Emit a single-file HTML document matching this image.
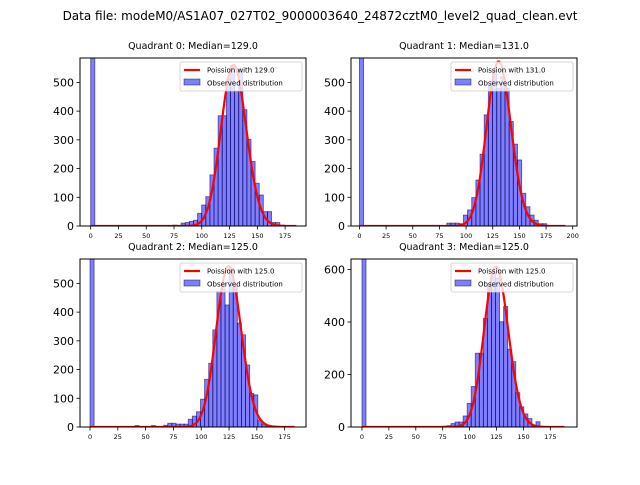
<!DOCTYPE html>
<html><head><meta charset="utf-8"><style>
body{margin:0;background:#fff;width:640px;height:480px;overflow:hidden}
svg{font-family:"DejaVu Sans","Liberation Sans",sans-serif}
</style></head><body>
<svg id="fig" width="640" height="480" viewBox="0 0 640 480" xmlns="http://www.w3.org/2000/svg">
<rect width="640" height="480" fill="#fff"/>
<text x="320" y="20" text-anchor="middle" font-size="12">Data file: modeM0/AS1A07_027T02_9000003640_24872cztM0_level2_quad_clean.evt</text>
</svg>
<script>
// ---- data ----
const quadrantNames = ["Quadrant 0: Median=129.0","Quadrant 1: Median=131.0","Quadrant 2: Median=125.0","Quadrant 3: Median=125.0"];
const lambdas = [129, 131, 125, 125];
const binWidths = [3.7, 3.9, 3.68, 3.76];
const totals = [4316, 4214, 4265, 4554];
const curveMax = [185, 193, 184, 188];
const counts0 = {0:2000,20:3,21:2,22:10,23:12,24:16,25:20,26:44,27:73,28:102,29:178,30:271,31:384,32:384,33:510,34:560,35:470,36:545,37:405,38:302,39:225,40:149,41:108,42:50,43:50,44:12,45:12,46:3};
const counts1 = {0:2000,21:10,22:10,23:10,24:8,25:38,26:56,27:99,28:160,29:250,30:387,31:492,32:538,33:480,34:520,35:480,36:364,37:285,38:230,39:114,40:67,41:38,42:20,43:8,44:8};
const counts2 = {0:2000,11:5,15:5,18:6,19:13,20:13,21:10,22:10,23:10,24:27,25:38,26:53,27:97,28:166,29:222,30:338,31:472,32:501,33:425,34:553,35:495,36:362,37:321,38:216,39:117,40:112,41:24,42:10,43:6,44:4};
const counts3 = {0:2000,20:3,21:5,22:13,23:19,24:19,25:42,26:90,27:154,28:281,29:281,30:414,31:541,32:586,33:567,34:401,35:459,36:296,37:249,38:131,39:77,40:50,41:32,42:5,43:20};
const allCounts = [counts0, counts1, counts2, counts3];
const xTicks0 = [0,25,50,75,100,125,150,175];
const xTicks1 = [0,25,50,75,100,125,150,175,200];
const yTicksA = [0,100,200,300,400,500];
const yTicksB = [0,200,400,600];
const xLims = [[-9.63,193.8],[-7.9,204],[-9,194.2],[-10.2,199.8]];
const yLims = [[0,585],[0,585],[0,585],[0,640]];

// ---- layout ----
const rects = [{l:80,t:58,r:306,b:226},{l:351,t:58,r:577,b:226},{l:80,t:259,r:306,b:427},{l:351,t:259,r:577,b:427}];
const xtickSets = [xTicks0, xTicks1, xTicks0, xTicks0];
const ytickSets = [yTicksA, yTicksA, yTicksA, yTicksB];
const NS="http://www.w3.org/2000/svg";
const fig=document.getElementById('fig');
function mk(tag,attrs,parent){const e=document.createElementNS(NS,tag);for(const k in attrs)e.setAttribute(k,attrs[k]);(parent||fig).appendChild(e);return e;}
function lnFact(k){let s=0;for(let i=2;i<=k;i++)s+=Math.log(i);return s;}
function pois(k,l){return Math.exp(k*Math.log(l)-l-lnFact(k));}

for(let q=0;q<4;q++){
  const R=rects[q], xl=xLims[q], yl=yLims[q];
  const sx=v=>R.l+(v-xl[0])/(xl[1]-xl[0])*(R.r-R.l);
  const sy=v=>R.b-(v-yl[0])/(yl[1]-yl[0])*(R.b-R.t);
  const g=mk('g',{});
  
  
  const cid='clip'+q;
  const cp=mk('clipPath',{id:cid},g); mk('rect',{x:R.l,y:R.t,width:R.r-R.l,height:R.b-R.t},cp);
  const t=mk('text',{x:(R.l+R.r)/2,y:R.t-9,'text-anchor':'middle','font-size':'9.5'},g);
  t.textContent=quadrantNames[q];
  
  
  const plot=mk('g',{'clip-path':'url(#'+cid+')'},g);
  const c=allCounts[q], bw=binWidths[q];
  for(const k in c){
    const v=c[k]; if(!v) continue;
    const x0=sx(k*bw), x1=sx((+k+1)*bw);
    const b=mk('rect',{x:x0,y:sy(v),width:x1-x0,height:sy(0)-sy(v),fill:'rgba(0,0,255,0.5)',stroke:'rgba(0,0,80,0.55)','stroke-width':'0.9'},plot);
    
    
  }
  let d='';
  for(let k=0;k<=curveMax[q];k++){const y=totals[q]*bw*pois(k,lambdas[q]);d+=(k?'L':'M')+sx(k).toFixed(2)+','+sy(y).toFixed(2);}
  const ln=mk('path',{d:d,fill:'none',stroke:'#ff0000','stroke-width':'2.2'},plot);
  
  
  mk('rect',{x:R.l,y:R.t,width:R.r-R.l,height:R.b-R.t,fill:'none',stroke:'#000','stroke-width':'1'},g);
  for(const v of xtickSets[q]){
    const x=sx(v); mk('line',{x1:x,x2:x,y1:R.b,y2:R.b+3.5,stroke:'#000','stroke-width':'0.8'},g);
    const tt=mk('text',{x:x,y:R.b+12,'text-anchor':'middle','font-size':'6.5'},g); tt.textContent=v;
    
    
  }
  for(const v of ytickSets[q]){
    const y=sy(v); mk('line',{x1:R.l-3.5,x2:R.l,y1:y,y2:y,stroke:'#000','stroke-width':'0.8'},g);
    const tt=mk('text',{x:R.l-6,y:y+4,'text-anchor':'end','font-size':'11'},g); tt.textContent=v;
    
    
  }
  const lg=mk('g',{},g);
  
  
  const lx=R.r-126, ly=R.t+4;
  mk('rect',{x:lx,y:ly,width:122,height:29,fill:'rgba(255,255,255,0.8)',stroke:'#ccc','stroke-width':'0.8',rx:'2'},lg);
  mk('line',{x1:lx+4,x2:lx+20,y1:ly+8,y2:ly+8,stroke:'#ff0000','stroke-width':'2.2'},lg);
  const l1=mk('text',{x:lx+27,y:ly+10.5,'font-size':'7'},lg); l1.textContent='Poission with '+lambdas[q].toFixed(1);
  mk('rect',{x:lx+4,y:ly+17,width:16,height:6,fill:'rgba(0,0,255,0.5)',stroke:'rgba(0,0,80,0.55)','stroke-width':'0.8'},lg);
  const l2=mk('text',{x:lx+27,y:ly+23.5,'font-size':'7'},lg); l2.textContent='Observed distribution';
}
</script>
</body></html>
